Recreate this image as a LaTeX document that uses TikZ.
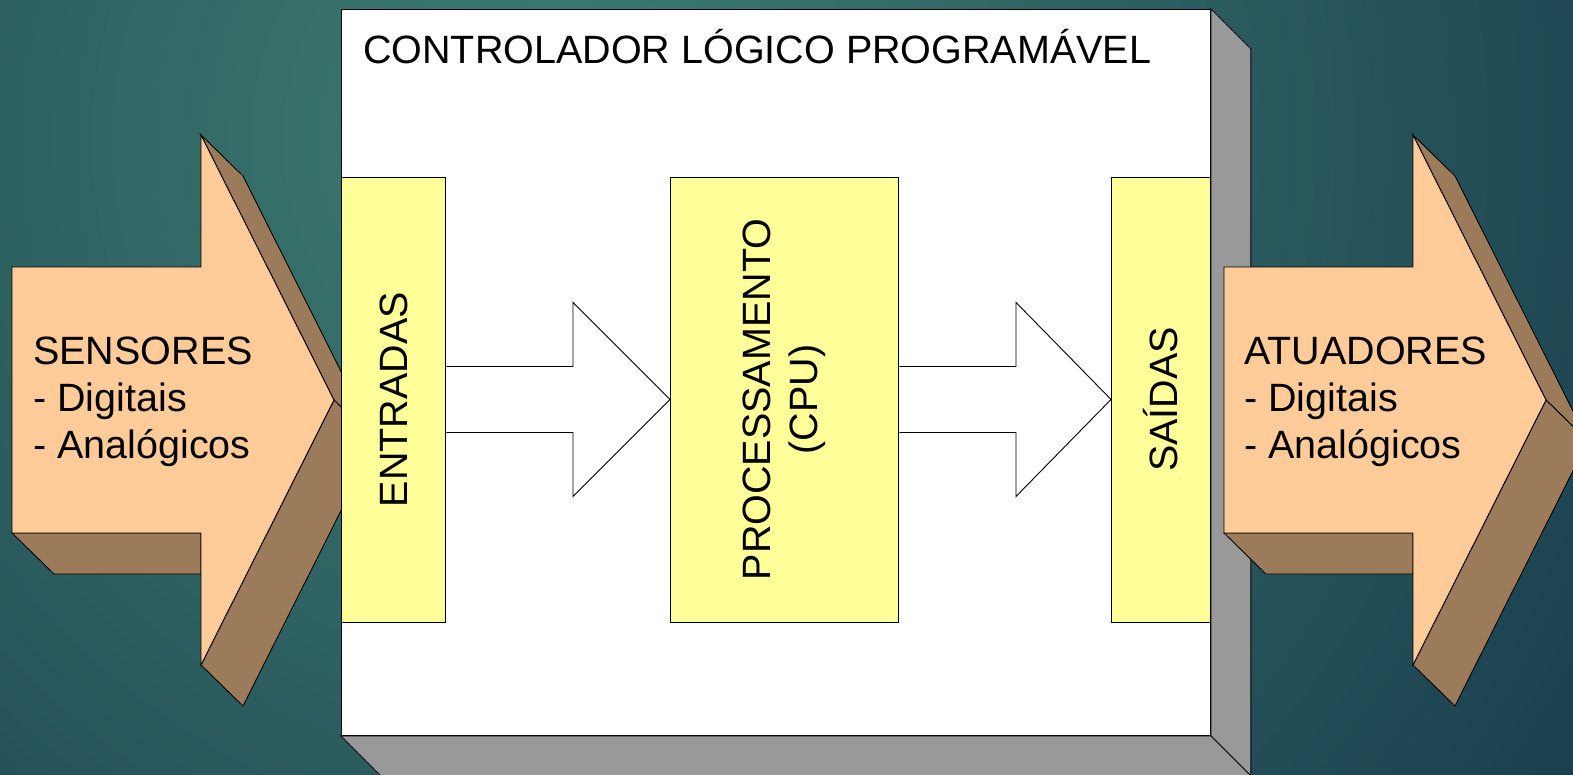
\documentclass[tikz,border=0pt]{standalone}
\usepackage{fontspec}
\setmainfont{Liberation Sans}
\usetikzlibrary{calc}
\definecolor{bgLight}{HTML}{3F7E72}
\definecolor{bgDark}{HTML}{173A4C}
\definecolor{panelYellow}{HTML}{FFFF99}
\definecolor{peach}{HTML}{FFCC99}
\definecolor{brownSide}{HTML}{9C7B5A}
\definecolor{boxGray}{HTML}{999999}
\tikzset{
  outl/.style={draw=black, line width=0.9pt, line join=miter},
  frontface/.style={outl, fill=peach},
  sideface/.style={outl, fill=brownSide},
  grayface/.style={outl, fill=boxGray},
  panel/.style={outl, fill=panelYellow, inner sep=0pt, anchor=north west},
  whitearrow/.style={outl, fill=white},
  lbl/.style={font=\fontsize{39.5}{47}\selectfont, inner sep=0pt, text=black},
  pics/bigarrow/.style={code={
    \path[sideface] (189,135) -- (231,176) -- (364,441) -- (322,400) -- cycle;
    \path[sideface] (322,400) -- (364,441) -- (231,706) -- (189,665) -- cycle;
    \path[sideface] (0,533) -- (42,574) -- (189,574) -- (189,533) -- cycle;
    \path[frontface] (0,267) -- (189,267) -- (189,135) -- (322,400) -- (189,665) -- (189,533) -- (0,533) -- cycle;
  }}
}
\begin{document}
\begin{tikzpicture}[x=1pt,y=-1pt]
\useasboundingbox (0,0) rectangle (1573,774);
\clip (0,0) rectangle (1573,774);
\fill[bgDark] (0,0) rectangle (1573,774);
\shade[inner color=bgLight, outer color=bgDark] (560,140) circle (1300);

% left input arrow
\pic at (12,0) {bigarrow};

% PLC box with depth
\node[outl, fill=white, minimum width=869, minimum height=726, inner sep=0pt, anchor=north west] (plc) at (341,9) {};
\path[grayface] (plc.north east) -- ++(40,40) -- ($(plc.south east)+(40,40)$) -- (plc.south east) -- cycle;
\path[grayface] (plc.south west) -- (plc.south east) -- ++(40,40) -- ($(plc.south west)+(40,40)$) -- cycle;

\node[lbl, anchor=base west] (title) at (363,63) {CONTROLADOR LÓGICO PROGRAMÁVEL};

% panels
\node[panel, minimum width=104, minimum height=445] (ent) at (341,176.5) {};
\node[panel, minimum width=228, minimum height=445] (proc) at (670,176.5) {};
\node[panel, minimum width=99, minimum height=445] (sai) at (1111,176.5) {};

\node[lbl, rotate=90] (entT) at (ent.center) {ENTRADAS};
\node[lbl, rotate=90, align=center] (procT) at (proc.center) {PROCESSAMENTO\\(CPU)};
\node[lbl, rotate=90] (saiT) at (sai.center) {SAÍDAS};

% white block arrows between panels
\path[whitearrow] ($(ent.east)+(0.5,-33)$) -- ($(proc.west)+(-97,-33)$) -- ($(proc.west)+(-97,-97)$) -- (proc.west) -- ($(proc.west)+(-97,97)$) -- ($(proc.west)+(-97,33)$) -- ($(ent.east)+(0.5,33)$);
\path[whitearrow] ($(proc.east)+(0.5,-33)$) -- ($(sai.west)+(-95,-33)$) -- ($(sai.west)+(-95,-97)$) -- (sai.west) -- ($(sai.west)+(-95,97)$) -- ($(sai.west)+(-95,33)$) -- ($(proc.east)+(0.5,33)$);

% right output arrow
\pic at (1224,0) {bigarrow};

\node[lbl, anchor=base west, align=left] (sens) at (33,458) {SENSORES\\- Digitais\\- Analógicos};
\node[lbl, anchor=base west, align=left] (atua) at (1244,458) {ATUADORES\\- Digitais\\- Analógicos};
\end{tikzpicture}
\end{document}
